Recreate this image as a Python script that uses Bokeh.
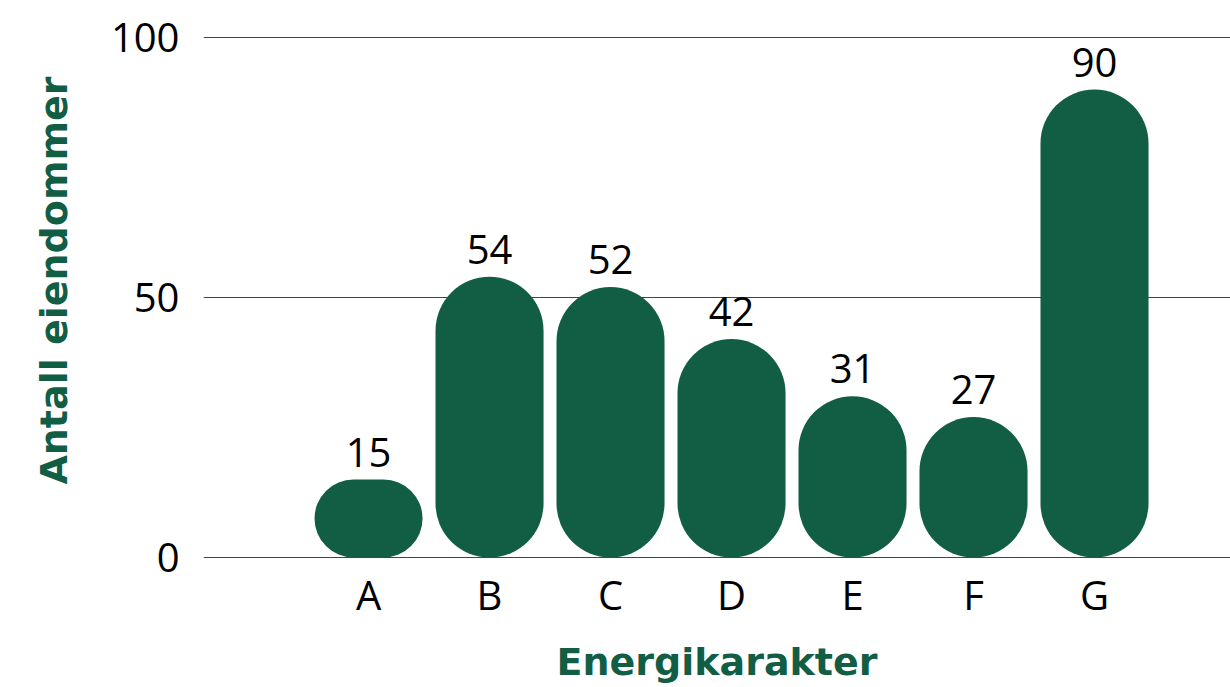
from bokeh.plotting import figure
from bokeh.models import ColumnDataSource, FixedTicker, Range1d
from bokeh.core.properties import value
from bokeh.embed import file_html
from bokeh.resources import INLINE

categories = ["A", "B", "C", "D", "E", "F", "G"]
counts = [15, 54, 52, 42, 31, 27, 90]
y_ticks = [0, 50, 100]

GREEN = "#115e45"
FONT = "Open Sans"
TITLE_FONT = "DejaVu Sans"

xs = list(range(len(categories)))
src = ColumnDataSource(dict(x=xs, top=counts, label=[str(v) for v in counts]))

p = figure(width=1230, height=687, output_backend="svg", toolbar_location=None,
           x_range=Range1d(-1.364, 7.124), y_range=Range1d(-0.577, 107.12),
           min_border_left=203, min_border_right=0, min_border_top=0, min_border_bottom=127)
p.outline_line_color = None
p.background_fill_color = "white"
p.border_fill_color = "white"

p.vbar(x="x", top="top", bottom=0, width=0.893, source=src, fill_color=GREEN,
       line_color=None, border_radius=54)

p.text(x="x", y="top", text="label", source=src, text_align="center",
       text_baseline="bottom", y_offset=-13, text_font_size="40px",
       text_font=value(FONT), text_color="black")

p.xgrid.grid_line_color = None
p.ygrid.grid_line_color = "#444444"
p.ygrid.grid_line_width = 1.2

p.yaxis.ticker = FixedTicker(ticks=y_ticks)
p.xaxis.ticker = FixedTicker(ticks=xs)
p.xaxis.major_label_overrides = {i: c for i, c in zip(xs, categories)}

for ax in (p.xaxis[0], p.yaxis[0]):
    ax.axis_line_color = None
    ax.major_tick_line_color = None
    ax.minor_tick_line_color = None
    ax.major_label_text_font = FONT
    ax.major_label_text_font_size = "40px"
    ax.major_label_text_color = "black"
    ax.axis_label_text_font = TITLE_FONT
    ax.axis_label_text_font_style = "bold"
    ax.axis_label_text_color = GREEN

p.xaxis.axis_label_text_font_size = "38px"
p.yaxis.axis_label_text_font_size = "38px"
p.yaxis.axis_label = "Antall eiendommer"
p.xaxis.axis_label = "Energikarakter"
p.yaxis.major_label_standoff = 18
p.xaxis.major_label_standoff = 0
p.yaxis.axis_label_standoff = 32
p.xaxis.axis_label_standoff = 15

open("out.html", "w").write(file_html(p, INLINE))
